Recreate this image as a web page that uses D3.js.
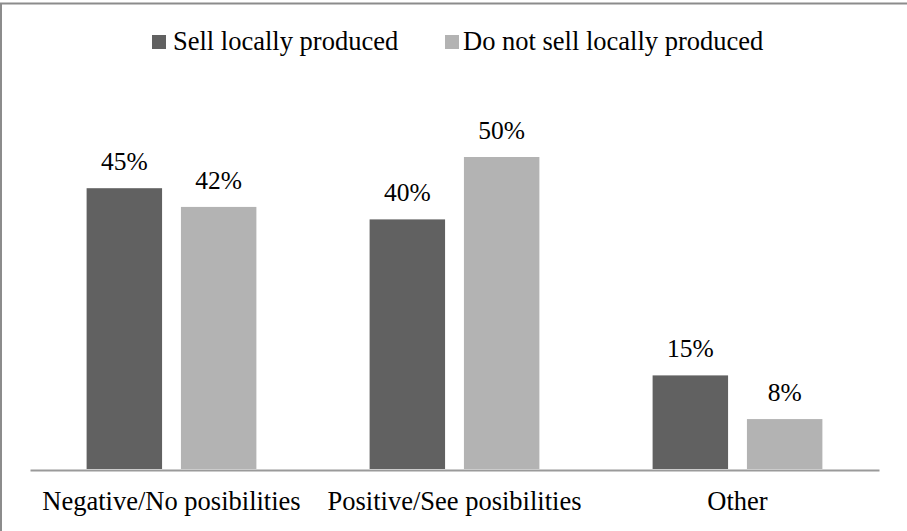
<!DOCTYPE html>
<html>
<head>
<meta charset="utf-8">
<script src="https://cdn.jsdelivr.net/npm/d3@7"></script>
<style>
body { margin: 0; background: #fff; }
svg text { font-family: "Liberation Serif", "Times New Roman", Tinos, "DejaVu Serif", serif !important; }
</style>
</head>
<body>
<svg id="chart" width="907" height="531"></svg>
<script>
// data
const categories = ["Negative/No posibilities", "Positive/See posibilities", "Other"];
const seriesNames = ["Sell locally produced", "Do not sell locally produced"];
const sellLocal = [45, 40, 15];
const notSellLocal = [42, 50, 8];
const colors = ["#616161", "#b3b3b3"];

const svg = d3.select("#chart");
const W = 907, H = 531;

// frame (cut off on right/bottom like the reference)
svg.append("rect")
  .attr("x", 1).attr("y", 3.5)
  .attr("width", W + 20).attr("height", H + 20)
  .attr("fill", "none")
  .attr("stroke", "#8c8c8c")
  .attr("stroke-width", 2);

let x = d3.scaleBand()
  .domain(categories)
  .range([30, 879])
  .paddingInner(0).paddingOuter(0);

let xSub = d3.scaleBand()
  .domain(seriesNames)
  .range([0, x.bandwidth()])
  .paddingInner(0.2).paddingOuter(0.6);

let y = d3.scaleLinear()
  .domain([0, 60])
  .range([469, 469 - 60 * 6.24]);

let rows = categories.map((c, i) => ({
  cat: c,
  vals: [
    {s: seriesNames[0], v: sellLocal[i], c: colors[0]},
    {s: seriesNames[1], v: notSellLocal[i], c: colors[1]}
  ]
}));

let groups = svg.selectAll("g.grp")
  .data(rows)
  .join("g")
  .attr("class", "grp")
  .attr("transform", d => "translate(" + x(d.cat) + ",0)");

groups.selectAll("rect")
  .data(d => d.vals)
  .join("rect")
  .attr("x", d => xSub(d.s))
  .attr("y", d => y(d.v))
  .attr("width", xSub.bandwidth())
  .attr("height", d => y(0) - y(d.v))
  .attr("fill", d => d.c);

groups.selectAll("text")
  .data(d => d.vals)
  .join("text")
  .attr("x", d => xSub(d.s) + xSub.bandwidth() / 2)
  .attr("y", d => y(d.v) - 18)
  .attr("text-anchor", "middle")
  .attr("font-size", 25.5)
  .attr("fill", "#000")
  .text(d => d.v + "%");

// baseline axis
let xAxis = d3.axisBottom(x).tickSize(0).tickPadding(0);
let ax = svg.append("g")
  .attr("transform", "translate(0,470)")
  .call(xAxis);
ax.select(".domain").attr("stroke", "#9a9a9a").attr("stroke-width", 2);
ax.selectAll("text")
  .attr("font-size", 26.5)
  .attr("fill", "#000")
  .attr("y", 40)
  .attr("dy", null);

// legend
const legendX = [152, 445];
let leg = svg.selectAll("g.leg")
  .data(seriesNames)
  .join("g")
  .attr("class", "leg")
  .attr("transform", (d, i) => "translate(" + legendX[i] + ",35)");
leg.append("rect")
  .attr("width", 14).attr("height", 14)
  .attr("fill", (d, i) => colors[i]);
leg.append("text")
  .attr("x", (d, i) => i === 0 ? 21 : 18)
  .attr("y", 14.5)
  .attr("font-size", 26.5)
  .attr("fill", "#000")
  .text(d => d);
</script>
</body>
</html>
